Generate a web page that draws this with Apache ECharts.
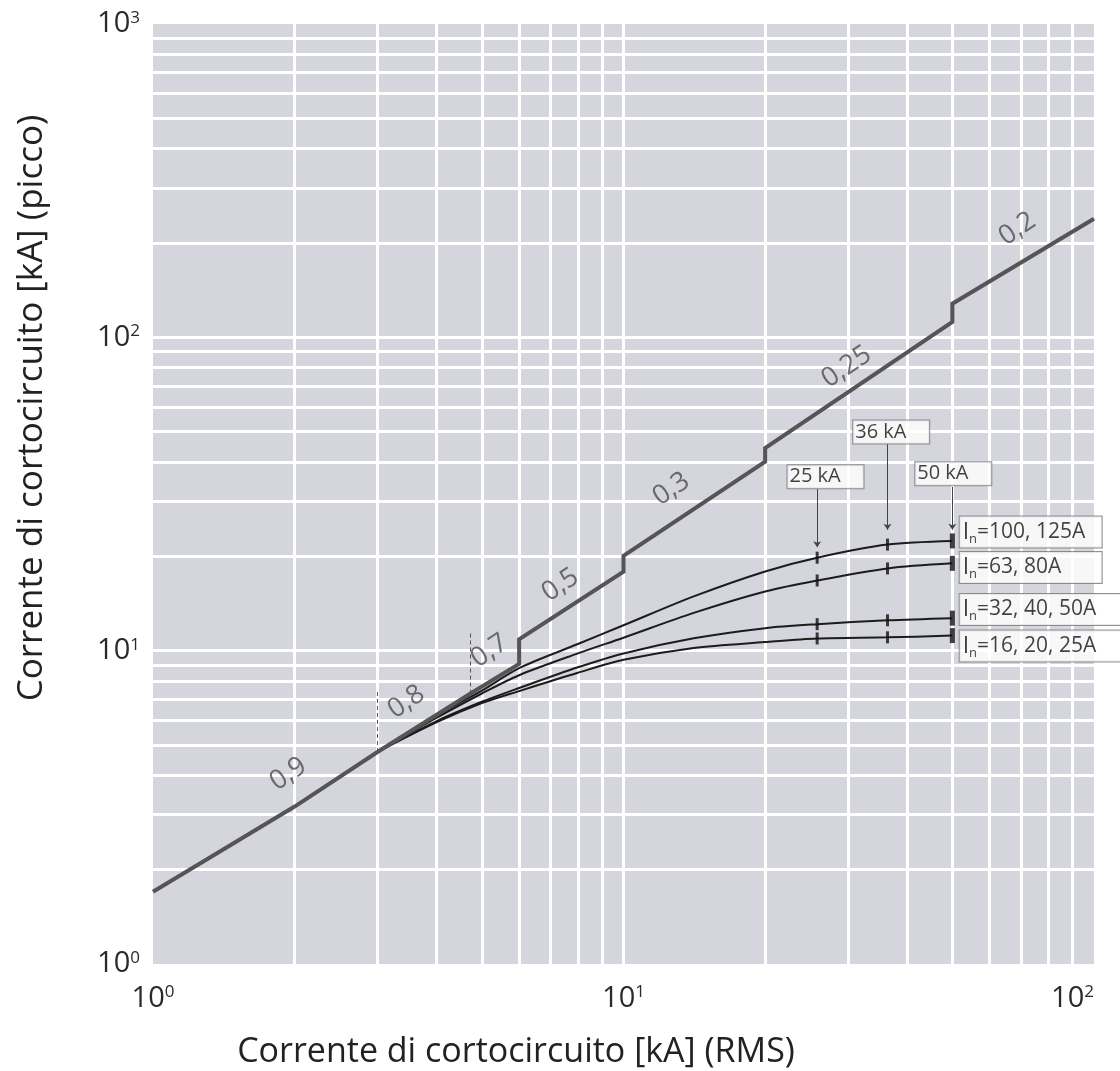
<!DOCTYPE html>
<html><head><meta charset="utf-8">
<script src="https://cdn.jsdelivr.net/npm/echarts@6/dist/echarts.min.js"></script>
<style>html,body{margin:0;padding:0;background:#fff}#c{width:1120px;height:1071px}</style>
</head><body><div id="c"></div>
<script>
// ---------------- data ----------------
const xTitle = 'Corrente di cortocircuito [kA] (RMS)';
const yTitle = 'Corrente di cortocircuito [kA] (picco)';
const xRange = [1, 100];
const yRange = [1, 1000];

// envelope (peak factor steps)  [I rms kA, I peak kA]
const envelope = [[1,1.70],[2,3.18],[3,4.75],[4.73,7.3],[6,9.07],[6,10.87],[10,17.87],[10,20.06],[20,40.1],[20,44.3],[50,112],[50,128],[100,239]];

// limiting curves per rated current
const curveNames = ['100, 125A','63, 80A','32, 40, 50A','16, 20, 25A'];
const curve100_125 = [[3,4.75],[4,6.2],[5,7.45],[6,8.8],[8,10.5],[10,12.05],[14.1,14.9],[20,17.9],[25.8,19.8],[36.4,21.8],[50,22.4]];
const curve63_80   = [[3,4.75],[4,6.1],[5,7.3],[6,8.35],[8,9.8],[10,11.0],[14.1,13.2],[20,15.45],[25.8,16.75],[36.4,18.3],[50,19.0]];
const curve32_50   = [[3,4.75],[4,5.95],[5,6.87],[6,7.6],[8,8.85],[10,9.8],[14.1,10.95],[20,11.8],[25.8,12.15],[36.4,12.5],[50,12.7]];
const curve16_25   = [[3,4.75],[4,5.9],[5,6.8],[6,7.43],[8,8.5],[10,9.35],[14.1,10.2],[20,10.65],[25.8,10.94],[36.4,11.03],[50,11.17]];
const curves = [curve100_125, curve63_80, curve32_50, curve16_25];

const tickCurrents = [25.8, 36.4, 50];
const kaLabels = ['25 kA','36 kA','50 kA'];
const kaBoxAnchors = [[22.26,35.9],[30.7,49.9],[41.6,36.7]];
const kaArrowX = [25.8, 36.4, 50];
const kaArrowTop = [32.8, 45.7, 33.3];
const kaArrowBottom = [21.4, 24.3, 24.3];

const inLabelAnchors = [[51.7,23.9],[51.7,18.44],[51.7,13.54],[51.7,10.35]];

const pfLabels = ['0,9','0,8','0,7','0,5','0,3','0,25','0,2'];
const pfAnchors = [[1.94,4.04],[3.455,6.86],[5.19,9.98],[7.34,16.2],[12.64,32.8],[29.8,80.4],[68.7,221.8]];

// dashed markers: [I, peak from, peak to]
const dashedMarkers = [[3,4.75,7.5],[4.73,7.3,11.4]];

// ---------------- chart ----------------
const FONT = '"Open Sans", "Noto Sans", sans-serif';
const chart = echarts.init(document.getElementById('c'));

const gridLines = [];
for (let d = 1; d < xRange[1]; d *= 10) for (let k = 2; k <= 10; k++) if (k * d < xRange[1]) gridLines.push({xAxis: k * d});
for (let d = 1; d < yRange[1]; d *= 10) for (let k = 2; k <= 10; k++) if (k * d < yRange[1]) gridLines.push({yAxis: k * d});

const supLabel = v => {
  const e = Math.round(Math.log10(v));
  return '{b|10}{s|' + e + '}';
};
const supRich = {
  b: {fontSize: 29, fontFamily: FONT, color: '#2a2a2a'},
  s: {fontSize: 17, fontFamily: FONT, color: '#2a2a2a', verticalAlign: 'top'}
};

const series = [];
series.push({
  type: 'line', data: [], z: 1, silent: true,
  markLine: {
    silent: true, z: 1, symbol: ['none','none'], label: {show: false},
    lineStyle: {color: '#ffffff', width: 3, type: 'solid'},
    emphasis: {disabled: true},
    data: gridLines, animation: false
  }
});
series.push({
  type: 'line', data: envelope, symbol: 'none', z: 4,
  lineStyle: {color: '#555557', width: 4, join: 'miter'}
});
curves.forEach((c, i) => {
  series.push({
    type: 'line', name: curveNames[i], data: c, symbol: 'none', z: 3,
    smooth: 0.3,
    lineStyle: {color: '#1c1c1c', width: 2}
  });
  const ticks = c.filter(p => tickCurrents.indexOf(p[0]) >= 0);
  series.push({
    type: 'scatter', z: 5, silent: true,
    data: ticks.map(p => ({value: p, symbolSize: p[0] === tickCurrents[tickCurrents.length-1] ? [5, 15] : [3, 12]})),
    symbol: 'rect', itemStyle: {color: '#111'}
  });
});
dashedMarkers.forEach(m => {
  series.push({
    type: 'line', data: [[m[0], m[1]], [m[0], m[2]]], symbol: 'none', z: 2,
    lineStyle: {color: '#555', width: 1, type: [4, 3]}
  });
});
series.push({
  type: 'scatter', z: 6, silent: true, symbolSize: 1,
  itemStyle: {color: 'rgba(0,0,0,0)'},
  data: pfAnchors.map((p, i) => ({value: p, name: pfLabels[i]})),
  label: {show: true, position: 'inside', formatter: '{b}', rotate: 34,
    fontSize: 27, fontFamily: FONT, color: '#4d4d4f'}
});
series.push({
  type: 'line', data: [], z: 5, silent: true,
  markLine: {
    silent: true, z: 5, symbol: ['none','arrow'], symbolSize: 6, label: {show: false},
    lineStyle: {color: '#444', width: 1, type: 'solid'},
    emphasis: {disabled: true}, animation: false,
    data: kaArrowX.map((x, i) => [{coord: [x, kaArrowTop[i]]}, {coord: [x, kaArrowBottom[i]]}])
  }
});
series.push({
  type: 'scatter', z: 7, silent: true, symbolSize: 1,
  itemStyle: {color: 'rgba(0,0,0,0)'},
  data: kaBoxAnchors.map((p, i) => ({value: p, name: kaLabels[i]})),
  label: {show: true, position: 'right', distance: 0, formatter: '{b}',
    fontSize: 20, fontFamily: FONT, color: '#111', lineHeight: 21,
    backgroundColor: '#fff', borderColor: '#777', borderWidth: 1,
    width: 72, padding: [1, 2, 1, 2], align: 'left'}
});
const inWidths = [136, 136, 170, 170];
series.push({
  type: 'scatter', z: 7, silent: true, symbolSize: 1,
  itemStyle: {color: 'rgba(0,0,0,0)'},
  data: inLabelAnchors.map((p, i) => ({value: p, name: curveNames[i], label: {width: inWidths[i]}})),
  label: {show: true, position: 'right', distance: 0,
    formatter: p => '{i|I}{n|n}{t|=' + p.name + '}',
    backgroundColor: '#fff', borderColor: '#777', borderWidth: 1,
    padding: [2, 3, 2, 3], align: 'left',
    rich: {
      i: {fontSize: 23, fontFamily: FONT, color: '#111', lineHeight: 27},
      n: {fontSize: 13, fontFamily: FONT, color: '#111', verticalAlign: 'bottom', lineHeight: 27},
      t: {fontSize: 21, fontFamily: FONT, color: '#111', lineHeight: 27}
    }}
});

chart.setOption({
  animation: false,
  backgroundColor: '#ffffff',
  grid: {left: 153, right: 26, top: 24, bottom: 107, show: true,
    backgroundColor: '#d4d5dd', borderWidth: 0, containLabel: false, outerBoundsMode: 'none'},
  xAxis: {
    type: 'log', logBase: 10, min: xRange[0], max: xRange[1],
    axisLine: {show: false}, axisTick: {show: false}, splitLine: {show: false},
    axisLabel: {formatter: supLabel, rich: supRich, margin: 20,
      alignMinLabel: 'center', alignMaxLabel: 'right', hideOverlap: false}
  },
  yAxis: {
    type: 'log', logBase: 10, min: yRange[0], max: yRange[1],
    axisLine: {show: false}, axisTick: {show: false}, splitLine: {show: false},
    axisLabel: {formatter: supLabel, rich: supRich, margin: 13, hideOverlap: false}
  },
  graphic: [
    {type: 'text', x: 516, y: 1052, silent: true,
      style: {text: xTitle, fontSize: 34, fontFamily: FONT, fill: '#222', align: 'center', verticalAlign: 'middle'}},
    {type: 'text', x: 32, y: 408, rotation: Math.PI / 2, silent: true,
      style: {text: yTitle, fontSize: 35, fontFamily: FONT, fill: '#222', align: 'center', verticalAlign: 'middle'}}
  ],
  series: series
});
</script></body></html>
